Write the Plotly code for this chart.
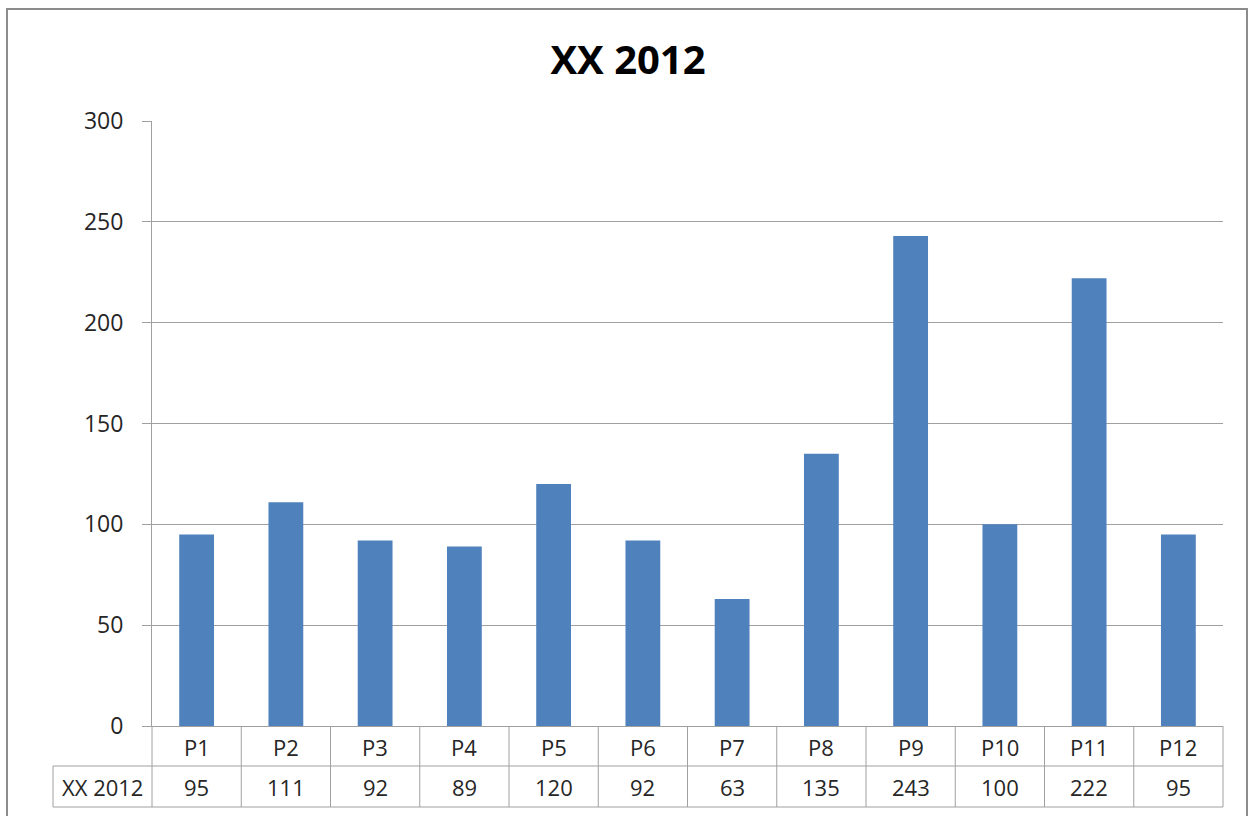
import plotly.graph_objects as go

categories = ["P1", "P2", "P3", "P4", "P5", "P6", "P7", "P8", "P9", "P10", "P11", "P12"]
values = [95, 111, 92, 89, 120, 92, 63, 135, 243, 100, 222, 95]
series_name = "XX 2012"
title_text = "XX 2012"
y_ticks = [0, 50, 100, 150, 200, 250, 300]

W, H = 1250, 816
L, R, T, B = 152, 1223, 121, 726
PW, PH = R - L, B - T

def px(x):
    return (x - L) / PW

def py(y):
    return (B - y) / PH

FONT = "Open Sans, Noto Sans, sans-serif"
GRID = "#a0a0a0"
TXT = "#262626"
BAR = "#4f81bd"

n = len(categories)
xs = list(range(n))

fig = go.Figure()
fig.add_trace(go.Bar(x=xs, y=values, width=0.39, marker=dict(color=BAR, line=dict(width=0)),
                     name=series_name, showlegend=False, hoverinfo="y"))

shapes = []
row1_bot = py(766)
row2_bot = py(807)
left_x = px(53)
line = dict(color=GRID, width=1)
shapes.append(dict(type="line", xref="paper", yref="paper", x0=left_x, x1=1, y0=row1_bot, y1=row1_bot, line=line))
shapes.append(dict(type="line", xref="paper", yref="paper", x0=left_x, x1=1, y0=row2_bot, y1=row2_bot, line=line))
shapes.append(dict(type="line", xref="paper", yref="paper", x0=left_x, x1=left_x, y0=row1_bot, y1=row2_bot, line=line))
shapes.append(dict(type="line", xref="paper", yref="paper", x0=0, x1=0, y0=0, y1=row2_bot, line=line))
shapes.append(dict(type="line", xref="paper", yref="paper", x0=1, x1=1, y0=0, y1=row2_bot, line=line))
for i in range(n - 1):
    shapes.append(dict(type="line", xref="x", yref="paper", x0=i + 0.5, x1=i + 0.5, y0=0, y1=row2_bot, line=line))
shapes.append(dict(type="rect", xref="paper", yref="paper", x0=px(7), x1=px(1247), y0=py(900), y1=py(9),
                   line=dict(color="#8c8c8c", width=2), fillcolor="rgba(0,0,0,0)", layer="below"))

TABLE_SIZE = 22
annotations = []
for i, c in enumerate(categories):
    annotations.append(dict(x=i, y=py(747), xref="x", yref="paper", text=c, showarrow=False,
                            font=dict(family=FONT, size=TABLE_SIZE, color=TXT), xanchor="center", yanchor="middle"))
for i, v in enumerate(values):
    annotations.append(dict(x=i, y=py(787), xref="x", yref="paper", text=str(v), showarrow=False,
                            font=dict(family=FONT, size=TABLE_SIZE, color=TXT), xanchor="center", yanchor="middle"))
annotations.append(dict(x=left_x / 2, y=py(787), xref="paper", yref="paper", text=series_name,
                        showarrow=False, font=dict(family=FONT, size=TABLE_SIZE, color=TXT),
                        xanchor="center", yanchor="middle"))

fig.update_layout(
    width=W, height=H,
    margin=dict(l=L, r=W - R, t=T, b=H - B, pad=0),
    paper_bgcolor="white", plot_bgcolor="white",
    title=dict(text="<b>" + title_text + "</b>", x=628 / W, xanchor="center",
               y=1 - 60 / H, yanchor="middle", yref="container",
               font=dict(family=FONT, size=40, color="#000000")),
    xaxis=dict(range=[-0.5, n - 0.5], showticklabels=False, showgrid=False, zeroline=False,
               showline=True, linecolor=GRID, linewidth=1, ticks=""),
    yaxis=dict(range=[0, 300], tickvals=y_ticks, showgrid=True, gridcolor=GRID, gridwidth=1,
               zeroline=False, showline=True, linecolor=GRID, linewidth=1,
               ticks="outside", ticklen=9, tickcolor=GRID, ticklabelstandoff=14,
               tickfont=dict(family=FONT, size=23, color=TXT)),
    shapes=shapes, annotations=annotations,
)

fig.write_html("out.html")
